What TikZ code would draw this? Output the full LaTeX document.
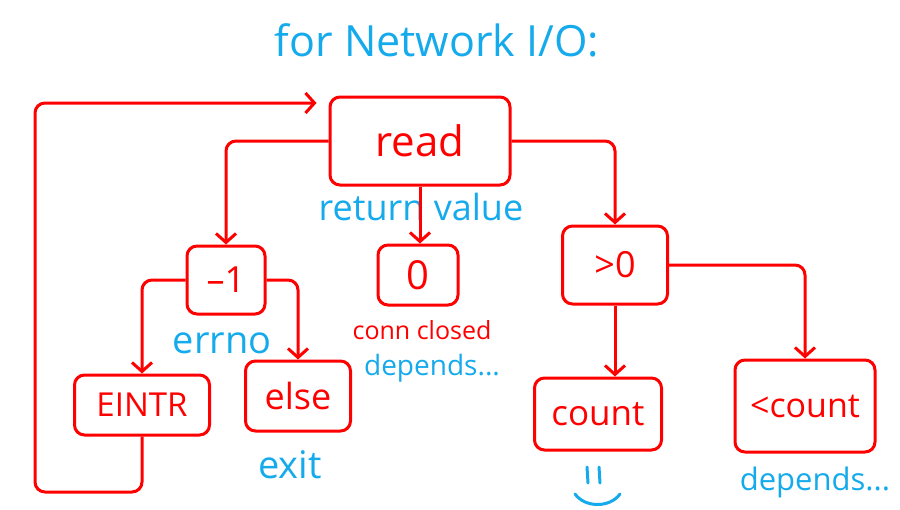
\documentclass[tikz,border=0pt]{standalone}
\usepackage{fontspec}
\setmainfont{Open Sans}
\usetikzlibrary{arrows.meta}
\definecolor{hred}{RGB}{255,0,0}
\definecolor{hblue}{RGB}{20,170,235}
\tikzset{
  box/.style={draw=hred, line width=3pt, rounded corners=10pt, text=hred, inner sep=0pt},
  conn/.style={draw=hred, line width=3pt, rounded corners=10pt, -{Straight Barb[length=9pt,width=20pt,line width=3pt]}},
  note/.style={text=hblue, inner sep=0pt},
  rnote/.style={text=hred, inner sep=0pt},
  fs/.style={font=\fontsize{#1}{#1}\selectfont}
}
\begin{document}
\begin{tikzpicture}[x=1pt,y=-1pt]
\useasboundingbox (0,0) rectangle (900,509);
\node[note, fs=43] (title) at (437,40) {for Network I/O:};
\node[box, fs=42, minimum width=180pt, minimum height=88pt] (read) at (420,141) {read};
\node[box, fs=36, minimum width=78pt, minimum height=68pt] (m1) at (226,280) {–1};
\node[box, fs=40, minimum width=80pt, minimum height=60pt] (zero) at (418,275) {0};
\node[box, fs=36, minimum width=105pt, minimum height=78pt] (gt0) at (615,265) {>0};
\node[box, fs=33, minimum width=135pt, minimum height=60pt] (eintr) at (142,405) {EINTR};
\node[box, fs=36, minimum width=105pt, minimum height=70pt] (else) at (298,396) {else};
\node[box, fs=35, minimum width=127pt, minimum height=72pt] (count) at (598,414) {count};
\node[box, fs=34, minimum width=140pt, minimum height=92pt] (lcount) at (805,406) {<count};
\node[note, fs=36] (rv) at (421,207) {return value};
\node[rnote, fs=25] (cc) at (422,330) {conn closed};
\node[note, fs=28] (dep1) at (432,368) {depends...};
\node[note, fs=38] (errno) at (222,343) {errno};
\node[note, fs=38] (exit) at (290,465) {exit};
\node[note, fs=31] (dep2) at (815,482) {depends...};
\coordinate (loopB) at (35,492);
\draw[conn] (read.south) -- (read.south |- zero.north);
\draw[conn] (read.west) -| (m1.north);
\draw[conn] (read.east) -| (gt0.north);
\draw[conn] (m1.west) -| (eintr.north);
\draw[conn] (m1.east) -| (else.north);
\draw[conn] (gt0.south) -- (gt0.south |- count.north);
\draw[conn] (gt0.east) -| (lcount.north);
\draw[conn, shorten >=12pt] (eintr.south) |- (loopB) |- ([yshift=38pt]read.west);
\draw[hblue, line width=3pt, line cap=round] (587,467) -- (588,483) (599,467) -- (600,483);
\draw[hblue, line width=3pt, line cap=round] (575,494) .. controls (585,508) and (610,508) .. (620,494);
\end{tikzpicture}
\end{document}
